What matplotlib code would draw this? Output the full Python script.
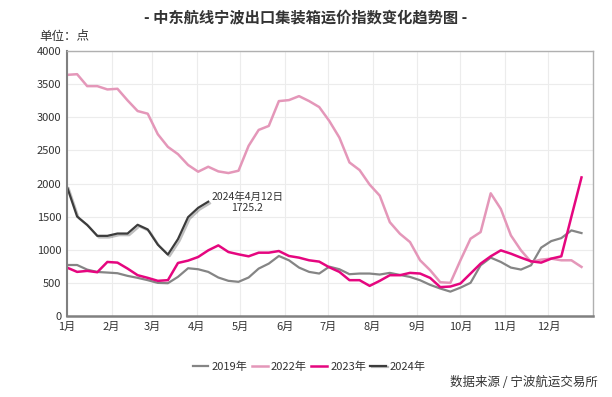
import matplotlib
matplotlib.use("Agg")
import matplotlib.pyplot as plt
import matplotlib.patheffects as pe
import numpy as np

plt.rcParams['font.family'] = ['Noto Sans CJK SC', 'DejaVu Sans']

# weekly index values
v2019 = [770, 770, 700, 665, 656, 646, 606, 576, 541, 500, 495, 591, 721, 706, 666,
         581, 531, 516, 581, 716, 791, 906, 841, 731, 666, 641, 745, 706, 631, 641,
         641, 626, 651, 620, 590, 540, 470, 415, 368, 428, 501, 766, 881, 816, 731,
         701, 766, 1032, 1131, 1176, 1292, 1252]
v2022 = [3640, 3650, 3470, 3470, 3420, 3430, 3255, 3094, 3054, 2744, 2553, 2443, 2280,
         2178, 2253, 2183, 2158, 2193, 2568, 2809, 2869, 3244, 3259, 3319, 3244, 3154,
         2944, 2693, 2318, 2203, 1983, 1817, 1416, 1242, 1116, 841, 691, 510, 500, 841,
         1167, 1267, 1852, 1617, 1217, 991, 816, 851, 866, 841, 841, 741]
v2023 = [731, 666, 681, 661, 816, 806, 716, 616, 576, 531, 541, 801, 836, 891, 991,
         1066, 966, 931, 901, 956, 956, 981, 906, 881, 841, 821, 735, 666, 541, 541,
         455, 531, 616, 616, 651, 641, 575, 436, 445, 491, 641, 791, 901, 991, 941,
         881, 826, 806, 866, 901, 1500, 2092]
v2024 = [1950, 1502, 1375, 1210, 1210, 1245, 1245, 1377, 1307, 1077, 927, 1161, 1492,
         1633, 1725.2]

month_start = [0, 31, 59, 90, 120, 151, 181, 212, 243, 273, 304, 334]
month_labels = [f"{m}月" for m in range(1, 13)]

fig = plt.figure(figsize=(6.12, 3.97), dpi=100)
ax = fig.add_axes([0.1095, 0.204, 0.8595, 0.6675])

def days(vals):
    return np.arange(len(vals)) * 7

ax.plot(days(v2019), v2019, color="#858585", lw=1.6, label="2019年")
ax.plot(days(v2022), v2022, color="#e497b9", lw=1.8, label="2022年")
ax.plot(days(v2023), v2023, color="#e5067f", lw=1.8, label="2023年")
ax.plot(days(v2024), v2024, color="#3c3c3c", lw=1.6, label="2024年",
        path_effects=[pe.SimpleLineShadow(offset=(1.2, -1.2), alpha=0.25), pe.Normal()])

ax.annotate("2024年4月12日\n1725.2", xy=(days(v2024)[-1], v2024[-1]),
            xytext=(125, 1720), fontsize=7.5, color="#333333", ha="center",
            va="center", linespacing=1.15)

ax.set_xlim(0, 365)
ax.set_ylim(0, 4000)
ax.set_xticks(month_start)
ax.set_xticklabels(month_labels)
ax.set_yticks(range(0, 4001, 500))
ax.tick_params(length=0, labelsize=8, colors="#333333", pad=4)
ax.grid(True, color="#ececec", lw=0.8)
ax.set_axisbelow(True)
for s in ax.spines.values():
    s.set_color("#b0b0b0")
    s.set_linewidth(1.0)
ax.spines["left"].set_color("#808080")
ax.spines["left"].set_linewidth(1.5)
ax.spines["bottom"].set_color("#808080")
ax.spines["bottom"].set_linewidth(1.8)

fig.text(0.5, 0.957, "- 中东航线宁波出口集装箱运价指数变化趋势图 -", ha="center",
         va="center", fontsize=11, fontweight="bold", color="#333333")
fig.text(0.065, 0.908, "单位：点", ha="left", va="center", fontsize=9, color="#333333")

fig.legend(loc="center", bbox_to_anchor=(0.505, 0.077), ncol=4, frameon=False,
           fontsize=8, handlelength=1.4, handletextpad=0.3, columnspacing=0.4,
           labelcolor="#333333")
fig.text(0.977, 0.037, "数据来源 / 宁波航运交易所", ha="right", va="center",
         fontsize=9, color="#333333")

fig.savefig("out.png", dpi=100)
